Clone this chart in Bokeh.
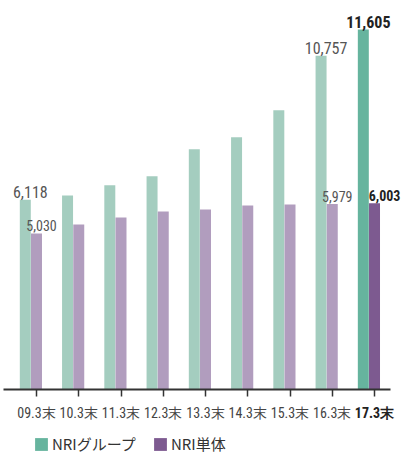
import numpy as np
from bokeh.plotting import figure
from bokeh.models import (ColumnDataSource, Range1d, FixedTicker, Label, Legend, LegendItem, LinearAxis)
from bokeh.embed import file_html
from bokeh.resources import INLINE

# ---- data ----
categories = ["09.3末", "10.3末", "11.3末", "12.3末", "13.3末", "14.3末", "15.3末", "16.3末", "17.3末"]
nri_group = [6118, 6258, 6581, 6871, 7742, 8129, 9000, 10757, 11605]
nri_single = [5030, 5323, 5548, 5742, 5806, 5935, 5968, 5979, 6003]
series_names = ["NRIグループ", "NRI単体"]
labelled_years = [0, 7, 8]  # indices whose values are written

NUM_FONT = "Roboto Condensed"

idx = np.arange(len(categories))
n = len(categories)
green_light, green_dark = "#a4cdbf", "#66b49e"
purple_light, purple_dark = "#b19dbe", "#7d5a90"

src = ColumnDataSource(dict(
    xg=idx - 0.265,
    xs=idx + 0.0,
    g=nri_group,
    s=nri_single,
    cg=[green_light] * (n - 1) + [green_dark],
    cs=[purple_light] * (n - 1) + [purple_dark],
))

p = figure(width=409, height=454, output_backend="svg", toolbar_location=None,
           x_range=Range1d(-0.852, 8.828), y_range=Range1d(-2096, 12541),
           x_axis_location=None, y_axis_location=None, min_border=0)
p.outline_line_color = None
p.xgrid.visible = False
p.ygrid.visible = False

bw = 0.26
rg = p.vbar(x="xg", top="g", width=bw, bottom=0, source=src, fill_color="cg", line_color=None)
rs = p.vbar(x="xs", top="s", width=bw, bottom=0, source=src, fill_color="cs", line_color=None)

ax = LinearAxis(fixed_location=0, bounds=(-0.781, 8.379))
ax.ticker = FixedTicker(ticks=list(range(n)))
ax.major_label_overrides = {i: "" for i in range(n)}
ax.major_tick_in = 0
ax.major_tick_out = 7
ax.minor_tick_line_color = None
ax.axis_line_width = 2
ax.axis_line_color = "#333333"
ax.major_tick_line_color = "#333333"
ax.major_tick_line_width = 1.5
ax.major_label_text_font_size = "1px"
p.add_layout(ax, "below")

# category labels
for i, c in enumerate(categories):
    last = i == n - 1
    p.add_layout(Label(x=i, y=0, y_offset=-24, text=c, text_align="center", text_baseline="middle",
                       text_font=NUM_FONT, text_font_size="14px",
                       text_font_style="bold" if last else "normal",
                       text_color="#222222" if last else "#444444"))

# value labels
for i in labelled_years:
    last = i == n - 1
    p.add_layout(Label(x=idx[i] - 0.265, y=nri_group[i], x_offset=5, y_offset=8, text=f"{nri_group[i]:,}",
                       text_align="center", text_baseline="alphabetic",
                       text_font=NUM_FONT, text_font_size="16px",
                       text_font_style="bold" if last else "normal",
                       text_color="#222222" if last else "#555555"))
    p.add_layout(Label(x=idx[i], y=nri_single[i], x_offset=10 if last else 5, y_offset=8,
                       text=f"{nri_single[i]:,}",
                       text_align="center", text_baseline="alphabetic",
                       text_font=NUM_FONT, text_font_size="14px",
                       text_font_style="bold" if last else "normal",
                       text_color="#222222" if last else "#555555"))

legend = Legend(items=[LegendItem(label=series_names[0], renderers=[rg], index=n - 1),
                       LegendItem(label=series_names[1], renderers=[rs], index=n - 1)],
                location=(33, 0), orientation="horizontal",
                glyph_width=16, glyph_height=16, label_height=16, label_standoff=3, spacing=16,
                padding=0, margin=0, border_line_alpha=0, background_fill_alpha=0,
                label_text_font="Noto Sans CJK JP", label_text_font_size="15px",
                label_text_color="#333333")
p.add_layout(legend)

open("out.html", "w").write(file_html(p, INLINE))
